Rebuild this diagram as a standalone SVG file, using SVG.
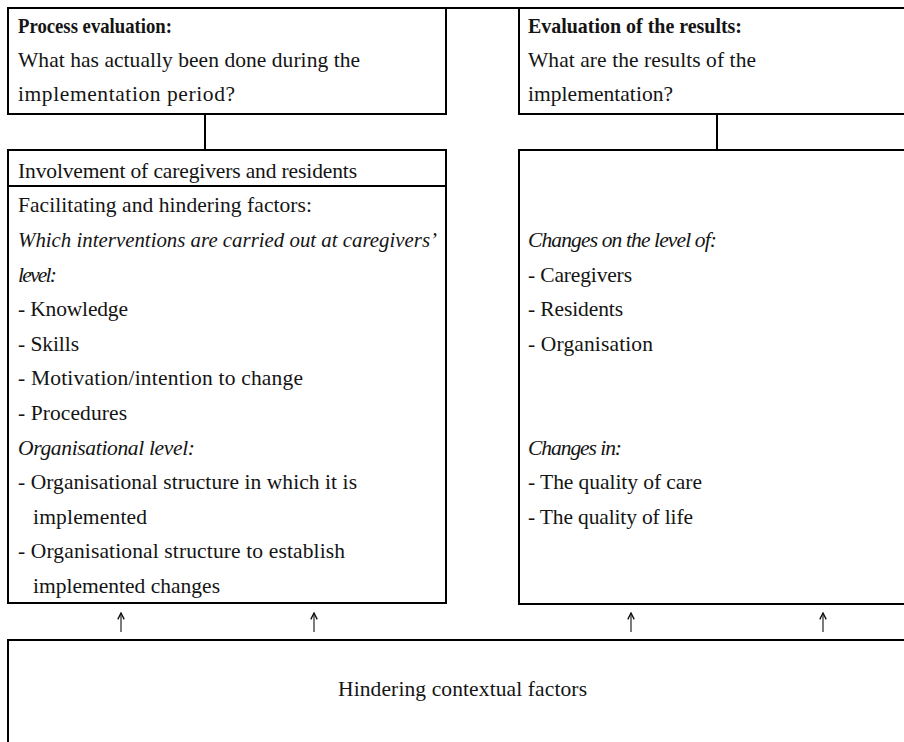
<svg xmlns="http://www.w3.org/2000/svg" width="904" height="742" viewBox="0 0 904 742">
  <style>
    .box { fill: #ffffff; stroke: #000000; stroke-width: 2; }
    .rule { stroke: #000000; stroke-width: 2; fill: none; }
    .link { stroke: #000000; stroke-width: 2; fill: none; }
    .arrow { stroke: #444444; stroke-width: 1.4; fill: none; marker-end: url(#head); }
    text { font-family: "Liberation Serif", "Times New Roman", serif; font-size: 21.5px; fill: #141414; }
    .b { font-weight: bold; }
    .i { font-style: italic; }
  </style>
  <defs>
    <marker id="head" viewBox="0 0 10 10" refX="9" refY="5" markerWidth="8" markerHeight="8" markerUnits="userSpaceOnUse" orient="auto">
      <path d="M1,1 L9,5 L1,9" fill="none" stroke="#111111" stroke-width="1.7"/>
    </marker>
  </defs>

  <rect width="904" height="742" fill="#ffffff"/>

  <!-- top border running across both columns -->
  <line class="rule" x1="8" y1="8" x2="904" y2="8"/>

  <g id="process-evaluation">
    <rect class="box" x="8" y="8" width="438" height="106"/>
    <text class="b" x="18" y="33" textLength="154" lengthAdjust="spacingAndGlyphs">Process evaluation:</text>
    <text x="18" y="67" textLength="342" lengthAdjust="spacing">What has actually been done during the</text>
    <text x="18" y="101" textLength="217" lengthAdjust="spacing">implementation period?</text>
  </g>

  <g id="results-evaluation">
    <rect class="box" x="519" y="8" width="400" height="106"/>
    <text class="b" x="528" y="33" textLength="214" lengthAdjust="spacingAndGlyphs">Evaluation of the results:</text>
    <text x="528" y="67" textLength="228" lengthAdjust="spacing">What are the results of the</text>
    <text x="528" y="101" textLength="145" lengthAdjust="spacing">implementation?</text>
  </g>

  <g id="process-factors">
    <rect class="box" x="8" y="150" width="438" height="453"/>
    <line class="rule" x1="8" y1="186" x2="446" y2="186"/>
    <text x="18" y="178" textLength="339" lengthAdjust="spacing">Involvement of caregivers and residents</text>
    <text x="18" y="212.4" textLength="294" lengthAdjust="spacing">Facilitating and hindering factors:</text>
    <text class="i" x="18" y="247" textLength="419" lengthAdjust="spacingAndGlyphs">Which interventions are carried out at caregivers’</text>
    <text class="i" x="18" y="281.6" textLength="39" lengthAdjust="spacing">level:</text>
    <text x="18" y="316.2" textLength="110" lengthAdjust="spacing">- Knowledge</text>
    <text x="18" y="350.8" textLength="61" lengthAdjust="spacing">- Skills</text>
    <text x="18" y="385.4" textLength="285" lengthAdjust="spacing">- Motivation/intention to change</text>
    <text x="18" y="420" textLength="109" lengthAdjust="spacing">- Procedures</text>
    <text class="i" x="18" y="454.6" textLength="177" lengthAdjust="spacing">Organisational level:</text>
    <text x="18" y="489.2" textLength="339" lengthAdjust="spacing">- Organisational structure in which it is</text>
    <text x="33" y="523.8" textLength="114" lengthAdjust="spacing">implemented</text>
    <text x="18" y="558.4" textLength="327" lengthAdjust="spacing">- Organisational structure to establish</text>
    <text x="33" y="593" textLength="187" lengthAdjust="spacing">implemented changes</text>
  </g>

  <g id="result-changes">
    <rect class="box" x="519" y="150" width="400" height="454"/>
    <text class="i" x="528" y="247" textLength="189" lengthAdjust="spacing">Changes on the level of:</text>
    <text x="528" y="281.6" textLength="104" lengthAdjust="spacing">- Caregivers</text>
    <text x="528" y="316.2" textLength="95" lengthAdjust="spacing">- Residents</text>
    <text x="528" y="350.8" textLength="125" lengthAdjust="spacing">- Organisation</text>
    <text class="i" x="528" y="454.6" textLength="94" lengthAdjust="spacing">Changes in:</text>
    <text x="528" y="489.2" textLength="174" lengthAdjust="spacing">- The quality of care</text>
    <text x="528" y="523.8" textLength="165" lengthAdjust="spacing">- The quality of life</text>
  </g>

  <g id="context-factors">
    <rect class="box" x="8" y="640" width="911" height="120"/>
    <text x="338" y="696" textLength="249" lengthAdjust="spacing">Hindering contextual factors</text>
  </g>

  <g id="connectors">
    <line class="link" x1="205" y1="114" x2="205" y2="150"/>
    <line class="link" x1="717" y1="114" x2="717" y2="150"/>
    <line class="arrow" x1="121" y1="632" x2="121" y2="613"/>
    <line class="arrow" x1="314" y1="632" x2="314" y2="613"/>
    <line class="arrow" x1="631" y1="632" x2="631" y2="613"/>
    <line class="arrow" x1="823" y1="632" x2="823" y2="613"/>
  </g>
</svg>
